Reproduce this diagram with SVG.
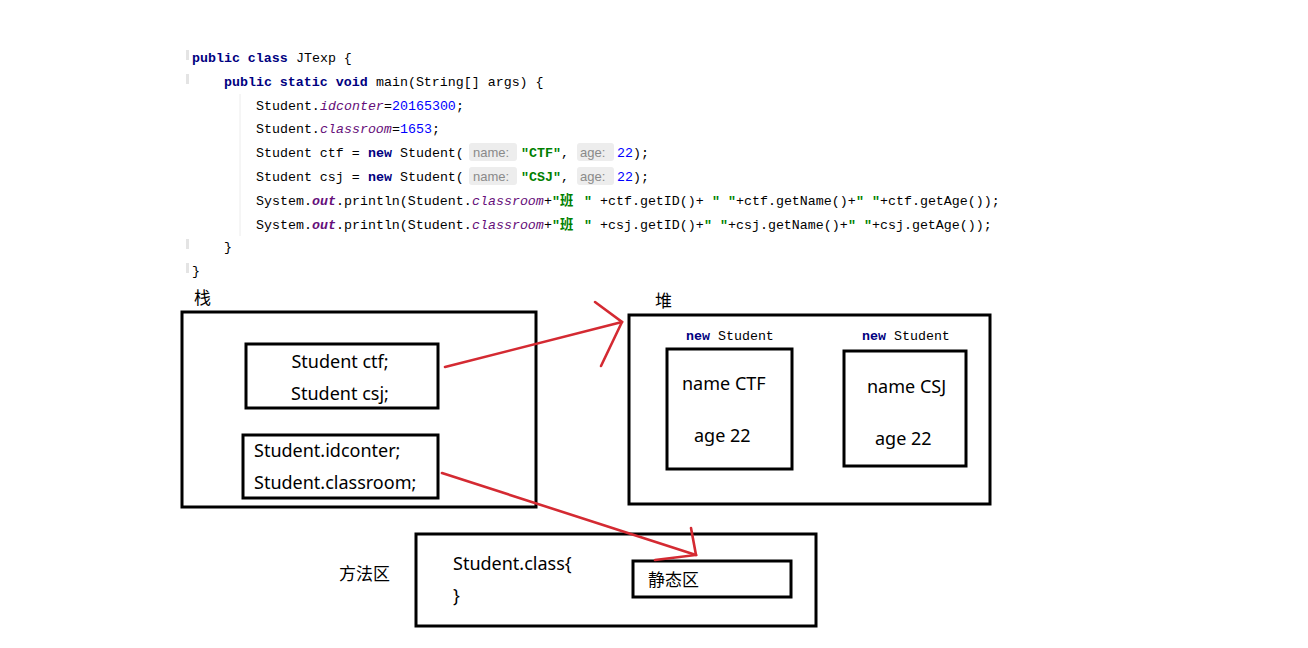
<svg xmlns="http://www.w3.org/2000/svg" width="1308" height="648" viewBox="0 0 1308 648">
<style>
.code{font-family:"Liberation Mono","DejaVu Sans Mono",monospace;font-size:13.3px;fill:#000}
.kw{font-weight:bold;fill:#000080}
.sf{font-style:italic;fill:#660e7a}
.out{font-style:italic;font-weight:bold;fill:#660e7a}
.num{fill:#0000ff}
.str{font-weight:bold;fill:#008000}
.cjk{font-family:"Noto Sans CJK SC",sans-serif;font-weight:bold;fill:#008000}
.hintbg{fill:#ededed}
.hint{font-family:"Liberation Sans","DejaVu Sans",sans-serif;font-size:13px;fill:#8a8a8a}
.lbl{font-family:"Noto Sans","Liberation Sans","Noto Sans CJK SC",sans-serif;font-size:18px;fill:#000}
.zh{font-family:"Noto Sans CJK SC",sans-serif;font-size:17px;fill:#000}
.box{fill:none;stroke:#000;stroke-width:3}
.red{fill:none;stroke:#d42a32;stroke-width:2.6;stroke-linecap:round}
.gut{fill:#e4e4e4}
</style>
<rect width="1308" height="648" fill="#fff"/>

<g id="code">
  <rect class="gut" x="186" y="50" width="3" height="10"/>
  <rect class="gut" x="186" y="74" width="3" height="10"/>
  <rect class="gut" x="186" y="239" width="3" height="10"/>
  <rect class="gut" x="186" y="263" width="3" height="10"/>
  <line x1="240" y1="94" x2="240" y2="236" stroke="#ececec" stroke-width="1"/>
  <text class="code" y="61.5"><tspan class="kw" x="192">public class</tspan><tspan x="288"> JTexp {</tspan></text>
  <text class="code" y="85.5"><tspan class="kw" x="224">public static void</tspan><tspan x="368"> main(String[] args) {</tspan></text>
  <text class="code" y="109.5"><tspan x="256">Student.</tspan><tspan class="sf" x="320">idconter</tspan><tspan x="384">=</tspan><tspan class="num" x="392">20165300</tspan><tspan x="456">;</tspan></text>
  <text class="code" y="133"><tspan x="256">Student.</tspan><tspan class="sf" x="320">classroom</tspan><tspan x="392">=</tspan><tspan class="num" x="400">1653</tspan><tspan x="432">;</tspan></text>
  <rect class="hintbg" x="469" y="143" width="48" height="18" rx="3"/>
  <rect class="hintbg" x="577" y="143" width="37" height="18" rx="3"/>
  <text class="code" y="156.5"><tspan x="256">Student ctf = </tspan><tspan class="kw" x="368">new</tspan><tspan x="392"> Student(</tspan><tspan class="str" x="521">"CTF"</tspan><tspan x="561">,</tspan><tspan class="num" x="617">22</tspan><tspan x="633">);</tspan></text>
  <text class="hint" x="473" y="156.5">name:</text>
  <text class="hint" x="580" y="156.5">age:</text>
  <rect class="hintbg" x="469" y="167" width="48" height="18" rx="3"/>
  <rect class="hintbg" x="577" y="167" width="37" height="18" rx="3"/>
  <text class="code" y="180.5"><tspan x="256">Student csj = </tspan><tspan class="kw" x="368">new</tspan><tspan x="392"> Student(</tspan><tspan class="str" x="521">"CSJ"</tspan><tspan x="561">,</tspan><tspan class="num" x="617">22</tspan><tspan x="633">);</tspan></text>
  <text class="hint" x="473" y="180.5">name:</text>
  <text class="hint" x="580" y="180.5">age:</text>
  <text class="code" y="204.5"><tspan x="256">System.</tspan><tspan class="out" x="312">out</tspan><tspan x="336">.println(Student.</tspan><tspan class="sf" x="472">classroom</tspan><tspan x="544">+</tspan><tspan class="str" x="552">"</tspan><tspan class="cjk" x="560">班</tspan><tspan class="str" x="584">"</tspan><tspan x="600">+ctf.getID()+</tspan><tspan class="str" x="712">" "</tspan><tspan x="736">+ctf.getName()+</tspan><tspan class="str" x="856">" "</tspan><tspan x="880">+ctf.getAge());</tspan></text>
  <text class="code" y="228.5"><tspan x="256">System.</tspan><tspan class="out" x="312">out</tspan><tspan x="336">.println(Student.</tspan><tspan class="sf" x="472">classroom</tspan><tspan x="544">+</tspan><tspan class="str" x="552">"</tspan><tspan class="cjk" x="560">班</tspan><tspan class="str" x="584">"</tspan><tspan x="600">+csj.getID()+</tspan><tspan class="str" x="704">" "</tspan><tspan x="728">+csj.getName()+</tspan><tspan class="str" x="848">" "</tspan><tspan x="872">+csj.getAge());</tspan></text>
  <text class="code" x="224" y="250.5">}</text>
  <text class="code" x="192" y="274.5">}</text>
</g>

<g id="stack">
  <text class="zh" x="194" y="304">栈</text>
  <rect class="box" x="182" y="312" width="354" height="195"/>
</g>
<g id="stack-refs">
  <rect class="box" x="246" y="344" width="192" height="64"/>
  <text class="lbl" x="340" y="368" text-anchor="middle">Student ctf;</text>
  <text class="lbl" x="340" y="400" text-anchor="middle">Student csj;</text>
</g>
<g id="stack-static">
  <rect class="box" x="243" y="435" width="195" height="63"/>
  <text class="lbl" x="254" y="457">Student.idconter;</text>
  <text class="lbl" x="254" y="489">Student.classroom;</text>
</g>

<g id="heap">
  <text class="zh" x="655" y="307">堆</text>
  <rect class="box" x="629" y="315" width="361" height="189"/>
</g>
<g id="obj-ctf">
  <text class="code" y="340"><tspan class="kw" x="686">new</tspan><tspan x="710"> Student</tspan></text>
  <rect class="box" x="667" y="349" width="125" height="120"/>
  <text class="lbl" x="682" y="390">name CTF</text>
  <text class="lbl" x="694" y="442">age 22</text>
</g>
<g id="obj-csj">
  <text class="code" y="340"><tspan class="kw" x="862">new</tspan><tspan x="886"> Student</tspan></text>
  <rect class="box" x="844" y="351" width="122" height="115"/>
  <text class="lbl" x="867" y="393">name CSJ</text>
  <text class="lbl" x="875" y="445">age 22</text>
</g>

<g id="method-area">
  <text class="zh" x="339" y="580">方法区</text>
  <rect class="box" x="416" y="534" width="400" height="92"/>
  <text class="lbl" x="453" y="570">Student.class{</text>
  <text class="lbl" x="453" y="602">}</text>
</g>
<g id="static-area">
  <rect class="box" x="633" y="561" width="158" height="36"/>
  <text class="zh" x="648" y="586">静态区</text>
</g>

<g id="connectors">
  <path class="red" d="M445 367 L622 322"/>
  <path class="red" d="M595 302 L622 322 L601 366"/>
  <path class="red" d="M442 473 L696 555"/>
  <path class="red" d="M691 528 L696 555 L655 560"/>
</g>
</svg>
